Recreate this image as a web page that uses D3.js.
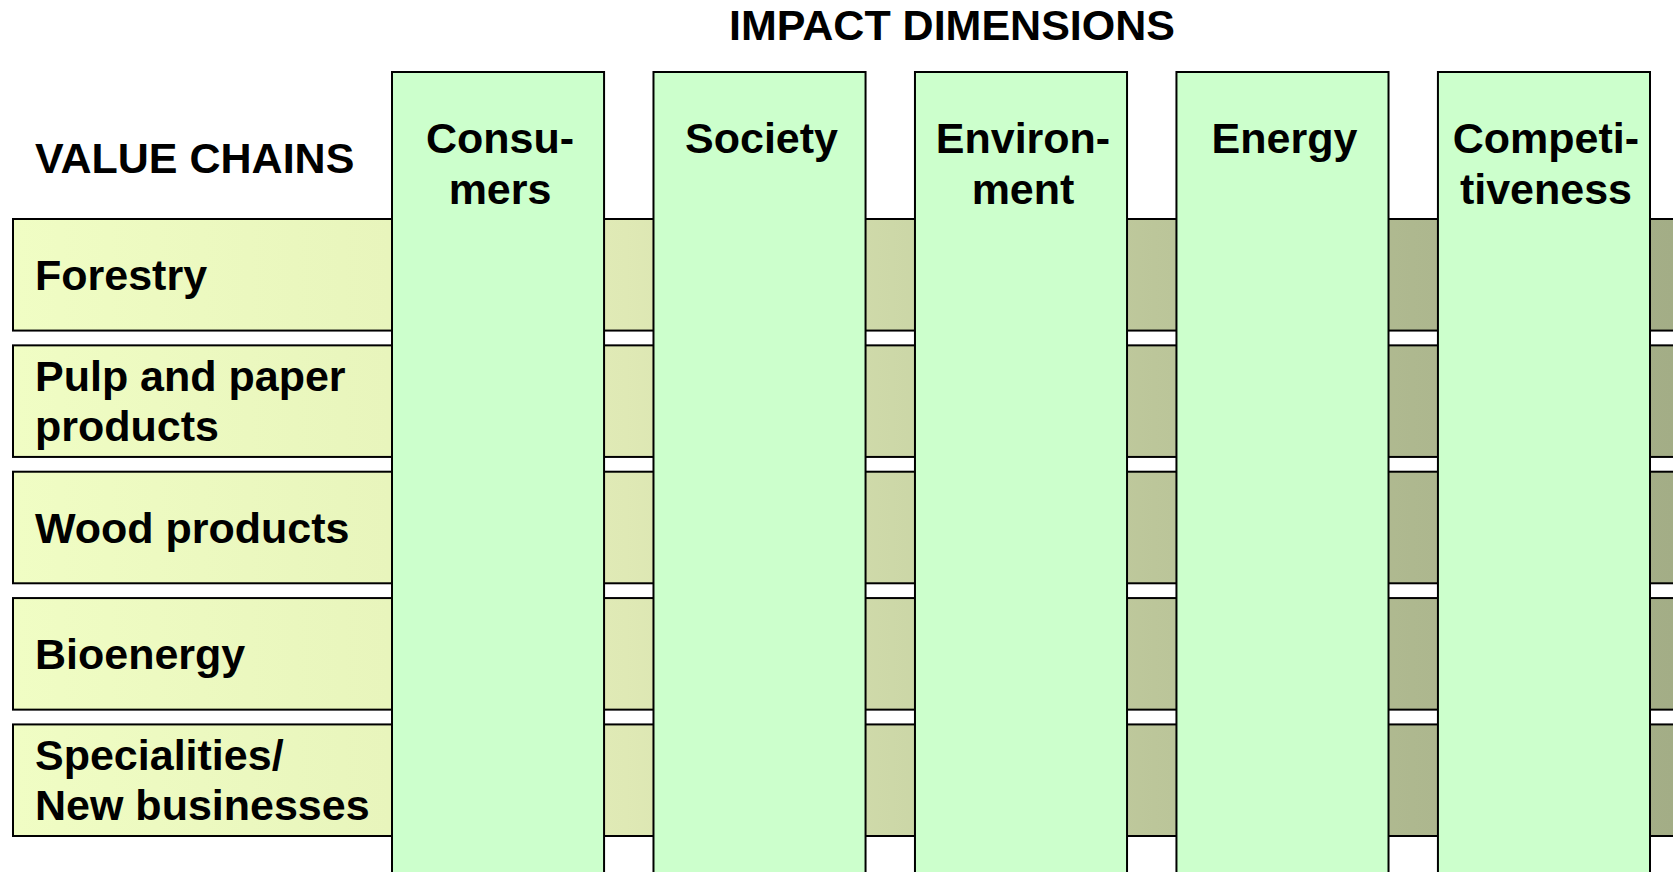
<!DOCTYPE html>
<html>
<head>
<meta charset="utf-8">
<script src="https://cdn.jsdelivr.net/npm/d3@7"></script>
<style>
  body { margin: 0; background: #ffffff; }
  svg text { font-family: "Liberation Sans", Arial, sans-serif; font-weight: bold; fill: #000000; }
</style>
</head>
<body>
<div id="chart"></div>
<script>
// labels, one entry per box, lines split where the picture wraps
var title = "IMPACT DIMENSIONS";
var rowHeader = "VALUE CHAINS";

var valueChains = [
    ["Forestry"],
    ["Pulp and paper", "products"],
    ["Wood products"],
    ["Bioenergy"],
    ["Specialities/", "New businesses"]
];

var impactDimensions = [
    ["Consu-", "mers"],
    ["Society"],
    ["Environ-", "ment"],
    ["Energy"],
    ["Competi-", "tiveness"]
];

var width = 1673,
    height = 872;

var fontSize = 43,
    lineHeight = 50;

var svg = d3.select("#chart")
    .append("svg")
    .attr("width", width)
    .attr("height", height);

// gradient along the rows, light yellow on the left to olive on the right
var grad = svg.append("defs")
    .append("linearGradient")
    .attr("id", "rowGrad")
    .attr("gradientUnits", "userSpaceOnUse")
    .attr("x1", 0).attr("y1", 0)
    .attr("x2", width).attr("y2", 0);

var stops = [
    [0.008, "#f0fdc4"],
    [0.233, "#e8f5bc"],
    [0.374, "#dfe9b5"],
    [0.533, "#cdd8a8"],
    [0.690, "#bcc69a"],
    [0.844, "#aeb88f"],
    [1.000, "#a3ad86"]
];

grad.selectAll("stop")
    .data(stops)
    .enter()
    .append("stop")
    .attr("offset", function (d) { return d[0]; })
    .attr("stop-color", function (d) { return d[1]; });

// scales
var x = d3.scaleBand()
    .domain(d3.range(impactDimensions.length))
    .range([392, 1650])
    .paddingInner(0.189)
    .paddingOuter(0);

var y = d3.scaleBand()
    .domain(d3.range(valueChains.length))
    .range([219, 836])
    .paddingInner(0.117)
    .paddingOuter(0);

// Rows (value chains)
var rows = svg.selectAll("g.row")
    .data(valueChains)
    .enter()
    .append("g")
    .attr("class", "row");

rows.append("rect")
    .attr("x", 13)
    .attr("y", function (d, i) { return y(i); })
    .attr("width", width + 20)
    .attr("height", y.bandwidth())
    .attr("fill", "url(#rowGrad)")
    .attr("stroke", "#000000")
    .attr("stroke-width", 2);

rows.each(function (d, i) {
    var cy = y(i) + y.bandwidth() / 2;
    var first = cy - (d.length - 1) * lineHeight / 2 + 15;
    d3.select(this).selectAll("text")
        .data(d)
        .enter()
        .append("text")
        .attr("x", 35)
        .attr("y", function (t, j) { return first + j * lineHeight; })
        .style("font-size", fontSize + "px")
        .text(function (t) { return t; });
});

// Columns (impact dimensions)
var cols = svg.selectAll("g.col")
    .data(impactDimensions)
    .enter()
    .append("g")
    .attr("class", "col");

cols.append("rect")
    .attr("x", function (d, i) { return x(i); })
    .attr("y", 72)
    .attr("width", x.bandwidth())
    .attr("height", height)
    .attr("fill", "#ccffcc")
    .attr("stroke", "#000000")
    .attr("stroke-width", 2);

cols.each(function (d, i) {
    var cx = x(i) + x.bandwidth() / 2 + 2;
    d3.select(this).selectAll("text")
        .data(d)
        .enter()
        .append("text")
        .attr("x", cx)
        .attr("y", function (t, j) { return 153 + j * 51; })
        .attr("text-anchor", "middle")
        .style("font-size", fontSize + "px")
        .text(function (t) { return t; });
});

// headers
svg.append("text")
    .attr("x", 952)
    .attr("y", 40)
    .attr("text-anchor", "middle")
    .style("font-size", fontSize + "px")
    .text(title);

svg.append("text")
    .attr("x", 35)
    .attr("y", 173)
    .style("font-size", fontSize + "px")
    .text(rowHeader);
</script>
</body>
</html>
